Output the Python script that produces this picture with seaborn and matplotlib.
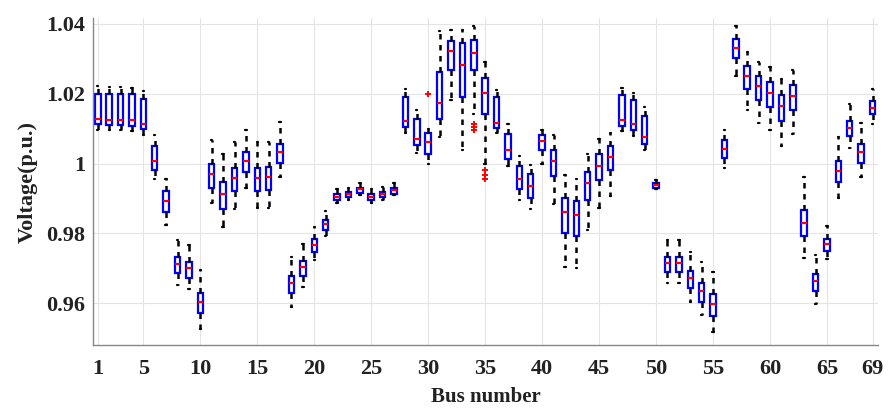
import numpy as np
import pandas as pd
import matplotlib
matplotlib.use("Agg")
import matplotlib.pyplot as plt
import seaborn as sns

# five-number summaries, one entry per bus
buses = list(range(1, 70))
whisker_lo = [1.0095, 1.0095, 1.0095, 1.0093, 1.0081, 0.9957, 0.9824, 0.9652, 0.9640, 0.9526,
              0.9886, 0.9819, 0.9871, 0.9929, 0.9874, 0.9874, 0.9962, 0.9590, 0.9646, 0.9724,
              0.9792, 0.9886, 0.9895, 0.9910, 0.9886, 0.9897, 0.9910, 1.0088, 1.0030, 0.9998,
              1.0076, 1.0183, 1.0040, 1.0143, 1.0000, 1.0088, 0.9992, 0.9895, 0.9871, 1.0000,
              0.9884, 0.9705, 0.9700, 0.9810, 0.9874, 0.9907, 1.0093, 1.0078, 1.0038, 0.9926,
              0.9657, 0.9657, 0.9605, 0.9567, 0.9519, 0.9986, 1.0252, 1.0152, 1.0116, 1.0095,
              1.0050, 1.0086, 0.9731, 0.9598, 0.9726, 0.9900, 1.0046, 0.9962, 1.0112]
q1 = [1.0112, 1.0110, 1.0110, 1.0107, 1.0098, 0.9981, 0.9860, 0.9686, 0.9673, 0.9571,
      0.9931, 0.9870, 0.9922, 0.9976, 0.9922, 0.9924, 1.0003, 0.9629, 0.9678, 0.9748,
      0.9810, 0.9895, 0.9903, 0.9916, 0.9895, 0.9905, 0.9914, 1.0105, 1.0052, 1.0027,
      1.0129, 1.0269, 1.0190, 1.0267, 1.0141, 1.0103, 1.0013, 0.9926, 0.9902, 1.0038,
      0.9964, 0.9802, 0.9793, 0.9895, 0.9952, 0.9981, 1.0107, 1.0095, 1.0057, 0.9931,
      0.9690, 0.9690, 0.9643, 0.9605, 0.9564, 1.0017, 1.0303, 1.0214, 1.0181, 1.0162,
      1.0122, 1.0152, 0.9792, 0.9636, 0.9750, 0.9946, 1.0078, 1.0003, 1.0141]
median = [1.0129, 1.0126, 1.0126, 1.0126, 1.0114, 1.0008, 0.9893, 0.9712, 0.9700, 0.9605,
          0.9970, 0.9914, 0.9960, 1.0008, 0.9960, 0.9962, 1.0033, 0.9657, 0.9705, 0.9767,
          0.9826, 0.9905, 0.9912, 0.9926, 0.9905, 0.9914, 0.9924, 1.0122, 1.0071, 1.0062,
          1.0173, 1.0322, 1.0281, 1.0316, 1.0202, 1.0117, 1.0038, 0.9957, 0.9935, 1.0065,
          1.0008, 0.9860, 0.9852, 0.9945, 0.9993, 1.0019, 1.0124, 1.0112, 1.0076, 0.9938,
          0.9714, 0.9714, 0.9671, 0.9636, 0.9598, 1.0043, 1.0331, 1.0250, 1.0221, 1.0202,
          1.0164, 1.0193, 0.9831, 0.9664, 0.9769, 0.9979, 1.0103, 1.0033, 1.0160]
q3 = [1.0200, 1.0198, 1.0198, 1.0198, 1.0185, 1.0050, 0.9922, 0.9733, 0.9719, 0.9630,
      0.9998, 0.9946, 0.9988, 1.0033, 0.9988, 0.9990, 1.0057, 0.9678, 0.9722, 0.9784,
      0.9838, 0.9912, 0.9918, 0.9931, 0.9912, 0.9920, 0.9930, 1.0192, 1.0129, 1.0088,
      1.0262, 1.0352, 1.0345, 1.0354, 1.0246, 1.0190, 1.0086, 0.9992, 0.9969, 1.0081,
      1.0040, 0.9902, 0.9892, 0.9976, 1.0027, 1.0050, 1.0195, 1.0181, 1.0136, 0.9945,
      0.9733, 0.9733, 0.9692, 0.9659, 0.9626, 1.0067, 1.0357, 1.0278, 1.0250, 1.0233,
      1.0197, 1.0226, 0.9867, 0.9684, 0.9784, 1.0007, 1.0122, 1.0055, 1.0178]
whisker_hi = [1.0221, 1.0219, 1.0219, 1.0217, 1.0208, 1.0081, 0.9957, 0.9781, 0.9767, 0.9695,
              1.0067, 1.0027, 1.0062, 1.0097, 1.0062, 1.0062, 1.0118, 0.9733, 0.9770, 0.9819,
              0.9865, 0.9926, 0.9931, 0.9943, 0.9926, 0.9933, 0.9943, 1.0214, 1.0154, 1.0100,
              1.0379, 1.0383, 1.0383, 1.0395, 1.0290, 1.0211, 1.0114, 1.0021, 0.9995, 1.0095,
              1.0081, 0.9967, 0.9957, 1.0027, 1.0069, 1.0088, 1.0216, 1.0202, 1.0162, 0.9952,
              0.9781, 0.9781, 0.9748, 0.9719, 0.9690, 1.0097, 1.0395, 1.0319, 1.0292, 1.0276,
              1.0241, 1.0267, 0.9962, 0.9738, 0.9821, 1.0076, 1.0170, 1.0116, 1.0214]

# outliers (red +)
outlier_bus = [30, 34, 34, 34, 35, 35, 35]
outlier_val = [1.0200, 1.0114, 1.0105, 1.0096, 0.9981, 0.9968, 0.9955]

xtick_vals = [1, 5, 10, 15, 20, 25, 30, 35, 40, 45, 50, 55, 60, 65, 69]
ytick_vals = [0.96, 0.98, 1.0, 1.02, 1.04]
ytick_labels = ["0.96", "0.98", "1", "1.02", "1.04"]

rows = []
for i, b in enumerate(buses):
    for v in (whisker_lo[i], q1[i], median[i], q3[i], whisker_hi[i]):
        rows.append({"bus": b, "voltage": v})
df = pd.DataFrame(rows)
out_df = pd.DataFrame({"bus": outlier_bus, "voltage": outlier_val})

sns.set_theme(style="white")
plt.rcParams["font.family"] = ["Liberation Serif", "DejaVu Serif"]

fig = plt.figure(figsize=(8.88, 4.08), dpi=100)
ax = fig.add_axes([0.105, 0.154, 0.884, 0.802])

ax.grid(True, color="#e4e4e4", linewidth=0.8, zorder=0)
ax.set_axisbelow(True)

sns.boxplot(data=df, x="bus", y="voltage", native_scale=True, whis=(0, 100),
            width=0.48, color="white", linecolor="blue", linewidth=1.6,
            showfliers=False, capwidths=0.12, ax=ax,
            boxprops={"facecolor": "white", "edgecolor": "blue"},
            medianprops={"color": "red", "linewidth": 1.6},
            whiskerprops={"color": "black", "linestyle": (0, (2.2, 2.2)), "linewidth": 1.8},
            capprops={"color": "black", "linewidth": 1.6})

sns.scatterplot(data=out_df, x="bus", y="voltage", marker="+", color="red",
                s=22, linewidth=1.4, ax=ax, zorder=5)

ax.set_xlim(0.6, 69.5)
ax.set_ylim(0.948, 1.0417)
ax.set_xticks(xtick_vals)
ax.set_xticklabels([str(v) for v in xtick_vals])
ax.set_yticks(ytick_vals)
ax.set_yticklabels(ytick_labels)
ax.tick_params(direction="in", length=4, width=0.8, color="#444444",
               labelsize=16, labelcolor="#222222")
ax.tick_params(axis="x", pad=10)
ax.tick_params(axis="y", pad=6)
for lab in ax.get_xticklabels() + ax.get_yticklabels():
    lab.set_fontweight("bold")

for side in ("top", "right"):
    ax.spines[side].set_visible(False)
for side in ("left", "bottom"):
    ax.spines[side].set_color("#888888")
    ax.spines[side].set_linewidth(1.0)

ax.set_xlabel("Bus number", fontsize=15, fontweight="bold", labelpad=6, color="#222222")
ax.set_ylabel("Voltage(p.u.)", fontsize=16, fontweight="bold", labelpad=6, color="#222222")

fig.savefig("out.png", dpi=100)
